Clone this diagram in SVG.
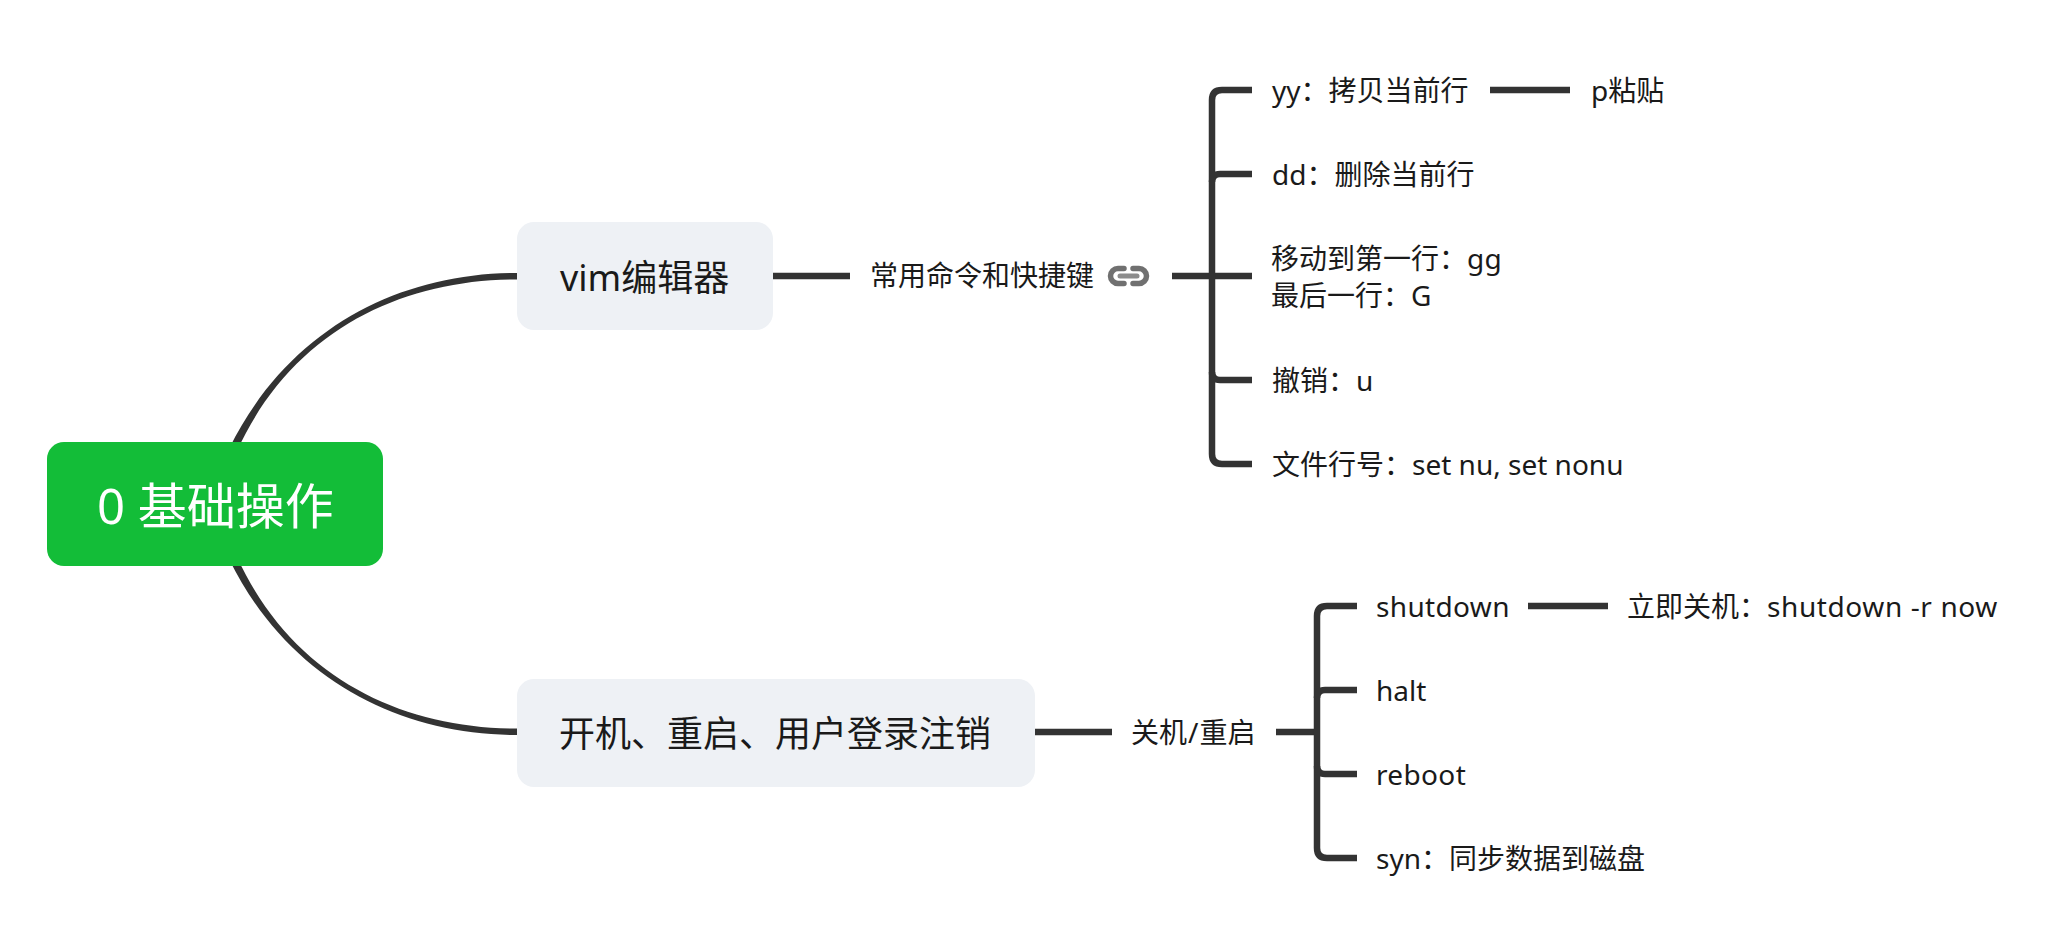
<svg xmlns="http://www.w3.org/2000/svg" width="2068" height="940" viewBox="0 0 2068 940">
<style>
text{font-family:"Noto Sans","Noto Sans CJK SC",sans-serif;fill:#1a1a1a}
.c{font-size:28px}
.m{font-size:36px}
.r{font-size:49px;fill:#fff}
.l{fill:none;stroke:#333;stroke-width:6.5}
.k{fill:#333}
.b{fill:#eef1f5}
.s{letter-spacing:.35px}
.w{letter-spacing:.6px}
</style>
<rect width="2068" height="940" fill="#fff"/>
<g id="connectors">
<path class="k" d="M517,273C399,273 288,329 229,449L237,451C292,331 401,279.5 517,279.5Z"/>
<path class="k" d="M517,728.5C401,728.5 292,677 237,557L229,559C288,679 399,735 517,735Z"/>
<path class="l" d="M772,276H850"/>
<path class="l" d="M1172,276H1252"/>
<path class="l" d="M1252,90H1222Q1212,90 1212,100V454Q1212,464 1222,464H1252"/>
<path class="l" d="M1252,174H1220Q1212,174 1212,182"/>
<path class="l" d="M1252,380H1220Q1212,380 1212,372"/>
<path class="l" d="M1490,90H1570"/>
<path class="l" d="M1035,732H1112"/>
<path class="l" d="M1276,732H1317"/>
<path class="l" d="M1357,606H1327Q1317,606 1317,616V848Q1317,858 1327,858H1357"/>
<path class="l" d="M1357,690H1325Q1317,690 1317,698"/>
<path class="l" d="M1357,774H1325Q1317,774 1317,766"/>
<path class="l" d="M1528,606H1608"/>
</g>
<g id="root"><rect x="47" y="442" width="336" height="124" rx="17" fill="#13bd38"/><text class="r" x="97" y="524">0 基础操作</text></g>
<g id="vim"><rect class="b" x="517" y="222" width="256" height="108" rx="17"/><text class="m" x="560" y="291">vim编辑器</text></g>
<g id="power"><rect class="b" x="517" y="679" width="518" height="108" rx="17"/><text class="m" x="559" y="747">开机、重启、用户登录注销</text></g>
<g id="shortcuts"><text class="c" x="870" y="286">常用命令和快捷键</text>
<g id="link-icon" fill="none" stroke-linecap="round"><path d="M1124,268.5H1118a7.5,7.5 0 0 0 0,15H1124" stroke="#707070" stroke-width="5.5"/><path d="M1133,268.5H1139a7.5,7.5 0 0 1 0,15H1133" stroke="#707070" stroke-width="5.5"/><path d="M1120,276H1137" stroke="#8c8c8c" stroke-width="5"/></g></g>
<g id="yy"><text class="c" x="1272" y="101">yy：拷贝当前行</text></g>
<g id="paste"><text class="c" x="1591" y="101">p粘贴</text></g>
<g id="dd"><text class="c" x="1272" y="185">dd：删除当前行</text></g>
<g id="move"><text class="c" x="1271" y="269">移动到第一行：<tspan class="s">gg</tspan></text><text class="c" x="1271" y="306">最后一行：G</text></g>
<g id="undo"><text class="c" x="1272" y="391">撤销：u</text></g>
<g id="lineno"><text class="c" x="1272" y="475">文件行号：<tspan>set nu, set nonu</tspan></text></g>
<g id="reboot-group"><text class="c" x="1131" y="743">关机<tspan dx="1">/</tspan><tspan dx="1">重启</tspan></text></g>
<g id="shutdown"><text class="c s" x="1376" y="617">shutdown</text></g>
<g id="shutdown-now"><text class="c" x="1627" y="617">立即关机：<tspan class="w">shutdown -r now</tspan></text></g>
<g id="halt"><text class="c" x="1376" y="701">halt</text></g>
<g id="reboot"><text class="c s" x="1376" y="785">reboot</text></g>
<g id="syn"><text class="c" x="1376" y="869">syn：同步数据到磁盘</text></g>
</svg>
